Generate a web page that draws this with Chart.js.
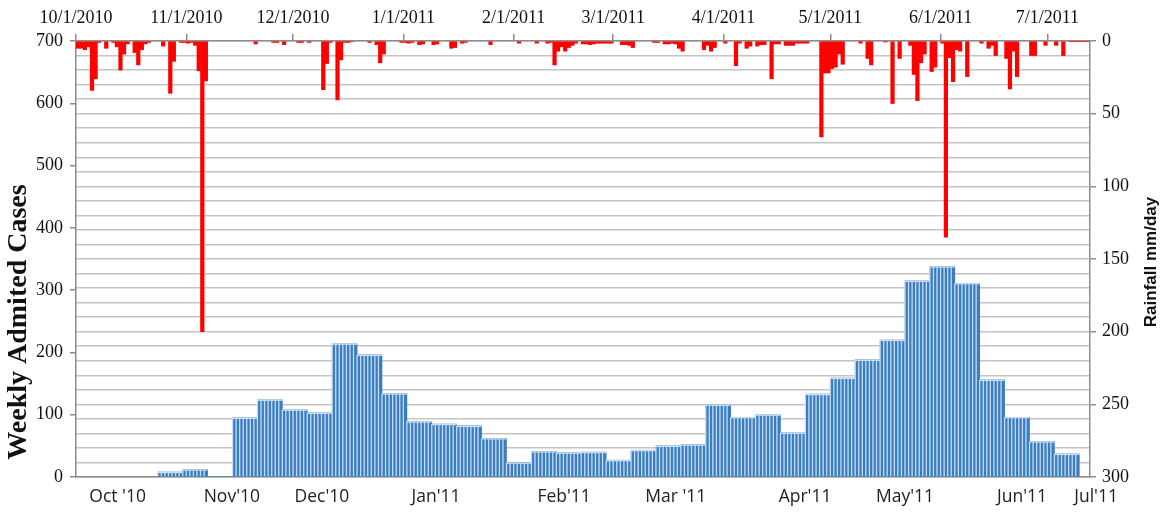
<!DOCTYPE html>
<html>
<head>
<meta charset="utf-8">
<script src="https://cdn.jsdelivr.net/npm/chart.js@4.4.1/dist/chart.umd.min.js"></script>
<style>
  html, body { margin: 0; padding: 0; background: #fff; }
  #wrap { width: 1162px; height: 512px; position: relative; }
</style>
</head>
<body>
<div id="wrap"><canvas id="chart"></canvas></div>
<script>
// day offsets are counted from 10/1/2010
const monthTickDays = [0, 31, 61, 92, 123, 151, 182, 212, 243, 273];
const monthTickLabels = ['10/1/2010', '11/1/2010', '12/1/2010', '1/1/2011', '2/1/2011',
  '3/1/2011', '4/1/2011', '5/1/2011', '6/1/2011', '7/1/2011'];

const bottomLabelDays = [11.7, 43.8, 69.1, 101.2, 137.2, 168.6, 204.9, 233.0, 265.9, 286.7];
const bottomLabels = ["Oct '10", "Nov'10", "Dec'10", "Jan'11", "Feb'11", "Mar '11",
  "Apr'11", "May'11", "Jun'11", "Jul'11"];

// weekly admitted cases (week start day)
const weekStarts = [23, 30, 37, 44, 51, 58, 65, 72, 79, 86, 93, 100, 107, 114, 121, 128, 135,
  142, 149, 156, 163, 170, 177, 184, 191, 198, 205, 212, 219, 226, 233, 240, 247, 254, 261, 268, 275];
const weeklyCases = [8, 12, 0, 95, 124, 108, 103, 214, 196, 134, 89, 85, 82, 62, 23, 41, 39,
  40, 27, 43, 50, 52, 116, 96, 100, 71, 133, 159, 188, 220, 315, 338, 311, 156, 96, 57, 37];

// daily rainfall (mm/day), only days with rain
const rainDays = [
  0, 1, 2, 3, 4, 5, 6, 8, 10, 11,
  12, 13, 14, 16, 17, 18, 19, 20, 24, 26,
  27, 29, 30, 31, 32, 33, 34, 35, 36, 50,
  55, 56, 58, 62, 63, 65, 69, 70, 71, 73,
  74, 75, 76, 77, 82, 84, 85, 86, 91, 92,
  93, 94, 96, 97, 100, 101, 105, 106, 108, 109,
  116, 124, 129, 132, 133, 134, 135, 136, 137, 138,
  139, 140, 142, 143, 144, 145, 146, 147, 148, 149,
  150, 153, 154, 155, 156, 162, 163, 165, 166, 167,
  168, 169, 170, 176, 177, 178, 179, 182, 185, 186,
  188, 189, 191, 192, 193, 195, 196, 197, 199, 200,
  201, 202, 203, 204, 205, 209, 210, 211, 212, 213,
  214, 215, 220, 222, 223, 227, 229, 231, 234, 235,
  236, 237, 238, 240, 241, 243, 244, 245, 246, 247,
  248, 250, 254, 256, 257, 258, 261, 262, 263, 264,
  268, 269, 272, 275, 277, 279, 280, 281, 282, 283, 284
];
const rainMm = [
  5, 5, 6, 4, 34, 26, 1, 5, 1, 4,
  20, 9, 2, 8, 16.5, 6, 2, 1, 3.5, 36,
  14, 1, 1, 1.5, 1, 3, 20.5, 200, 27.5, 2,
  1, 1, 2.5, 1, 1, 1, 33.5, 15.5, 1, 40.5,
  13, 1, 1, 0.5, 1, 2.5, 15, 9, 1, 1,
  1.5, 1, 2.5, 2, 2.5, 2, 5, 4.5, 1.5, 1,
  2.5, 1.5, 1.5, 1.5, 1, 16.5, 7, 4, 7, 4.5,
  3, 1.5, 2, 2, 2.5, 2, 1.5, 1.5, 1.5, 1.5,
  1.5, 2.5, 2.5, 3, 4.5, 1, 1, 2, 2, 1.5,
  2, 5, 7, 6, 3, 7, 4.5, 1.5, 17, 1.5,
  5, 3.5, 3.5, 2.5, 2.5, 26, 2, 2, 3, 3,
  3, 1.5, 1.5, 1.5, 1.5, 66, 22, 22, 19, 18,
  9, 16, 1.5, 12, 16.5, 0.7, 43, 12, 3, 23,
  41, 15, 9, 21, 18, 1.5, 135, 11.5, 28, 6,
  7, 24.5, 1.5, 5, 3, 10, 12, 33, 7, 24.5,
  10, 10, 3, 3, 10, 0.5, 0.5, 0.5, 0.5, 0.5, 0.5
];

const DAY_MAX = 285;
const AXIS_GREY = '#8c8c8c';
const serif = '"Liberation Serif", "Times New Roman", serif';

// light day stripes over the weekly bars
const dayStripes = {
  id: 'dayStripes',
  afterDatasetDraw(chart, args) {
    if (args.index !== 1) return;
    const xs = chart.scales.x;
    const ctx = chart.ctx;
    ctx.save();
    ctx.strokeStyle = 'rgba(205,225,244,0.95)';
    ctx.lineWidth = 1.3;
    args.meta.data.forEach((bar, i) => {
      if (!weeklyCases[i]) return;
      for (let d = 0; d < 7; d++) {
        const px = xs.getPixelForValue(weekStarts[i] + d);
        ctx.beginPath();
        ctx.moveTo(px, bar.y);
        ctx.lineTo(px, bar.base);
        ctx.stroke();
      }
      ctx.beginPath();
      ctx.moveTo(xs.getPixelForValue(weekStarts[i]), bar.y + 0.5);
      ctx.lineTo(xs.getPixelForValue(weekStarts[i] + 7), bar.y + 0.5);
      ctx.stroke();
    });
    ctx.restore();
  }
};

const axisTitles = {
  id: 'axisTitles',
  afterDraw(chart) {
    const ctx = chart.ctx;
    ctx.save();
    ctx.fillStyle = '#111';
    ctx.textAlign = 'center';
    ctx.textBaseline = 'middle';
    ctx.save();
    ctx.translate(19, 322);
    ctx.rotate(-Math.PI / 2);
    ctx.font = 'bold 28px ' + serif;
    ctx.fillText('Weekly Admited Cases', 0, 0);
    ctx.restore();
    ctx.save();
    ctx.translate(1151, 262);
    ctx.rotate(-Math.PI / 2);
    ctx.font = 'bold 17px "Liberation Sans", Arial, sans-serif';
    ctx.fillText('Rainfall mm/day', 0, 0);
    ctx.restore();
    ctx.restore();
  }
};

new Chart(document.getElementById('chart'), {
  type: 'bar',
  data: {
    datasets: [
      {
        label: 'Rainfall',
        data: rainDays.map((d, i) => ({ x: d + 0.5, y: rainMm[i] })),
        xAxisID: 'x2',
        yAxisID: 'y2',
        backgroundColor: '#ff0000',
        grouped: false,
        barPercentage: 1,
        categoryPercentage: 1,
      },
      {
        label: 'Weekly Admited Cases',
        data: weekStarts.map((d, i) => ({ x: d + 3.5, y: weeklyCases[i] })),
        xAxisID: 'x',
        yAxisID: 'y',
        backgroundColor: '#3a7ec1',
        grouped: false,
        barPercentage: 1,
        categoryPercentage: 1,
      },
    ],
  },
  options: {
    responsive: true,
    maintainAspectRatio: false,
    animation: false,
    layout: { padding: 0 },
    plugins: { legend: { display: false }, tooltip: { enabled: false } },
    scales: {
      x: {
        type: 'linear',
        position: 'bottom',
        min: 0,
        max: DAY_MAX,
        offset: false,
        bounds: 'data',
        afterBuildTicks: (s) => { s.ticks = bottomLabelDays.map((v) => ({ value: v })); },
        afterFit: (s) => { s.height = 35; },
        grid: { display: false, drawTicks: false, offset: false },
        border: { display: true, color: AXIS_GREY, width: 1.5 },
        ticks: {
          autoSkip: false,
          maxRotation: 0,
          padding: 10,
          color: '#222',
          font: { family: '"Open Sans", sans-serif', size: 17.5 },
          callback: (v, i) => bottomLabels[i],
        },
      },
      x2: {
        type: 'linear',
        position: 'top',
        min: 0,
        max: DAY_MAX,
        offset: false,
        bounds: 'data',
        afterBuildTicks: (s) => { s.ticks = monthTickDays.map((v) => ({ value: v })); },
        afterFit: (s) => { s.height = 41; },
        grid: { drawOnChartArea: false, drawTicks: true, offset: false, tickLength: 7, tickColor: AXIS_GREY, lineWidth: 1.5 },
        border: { display: true, color: AXIS_GREY, width: 1.5 },
        ticks: {
          autoSkip: false,
          maxRotation: 0,
          padding: 5,
          color: '#111',
          font: { family: serif, size: 18 },
          callback: (v, i) => monthTickLabels[i],
        },
      },
      y: {
        position: 'left',
        min: 0,
        max: 700,
        afterFit: (s) => { s.width = 76; },
        grid: { drawOnChartArea: false, drawTicks: true, tickLength: 6, tickColor: AXIS_GREY, lineWidth: 1.5 },
        border: { display: true, color: AXIS_GREY, width: 1.5 },
        ticks: { stepSize: 100, padding: 7, color: '#111', font: { family: serif, size: 18 } },
      },
      y2: {
        position: 'right',
        min: 0,
        max: 300,
        reverse: true,
        afterFit: (s) => { s.width = 72; },
        grid: {
          color: '#c4c4c4',
          lineWidth: 1.5,
          tickLength: 6,
          tickColor: (c) => (c.tick && c.tick.value % 50 === 0 ? AXIS_GREY : 'rgba(0,0,0,0)'),
        },
        border: { display: true, color: AXIS_GREY, width: 1.5 },
        ticks: {
          stepSize: 10,
          autoSkip: false,
          padding: 6,
          color: '#111',
          font: { family: serif, size: 18 },
          callback: (v) => (v % 50 === 0 ? v : ''),
        },
      },
    },
  },
  plugins: [dayStripes, axisTitles],
});
</script>
</body>
</html>
